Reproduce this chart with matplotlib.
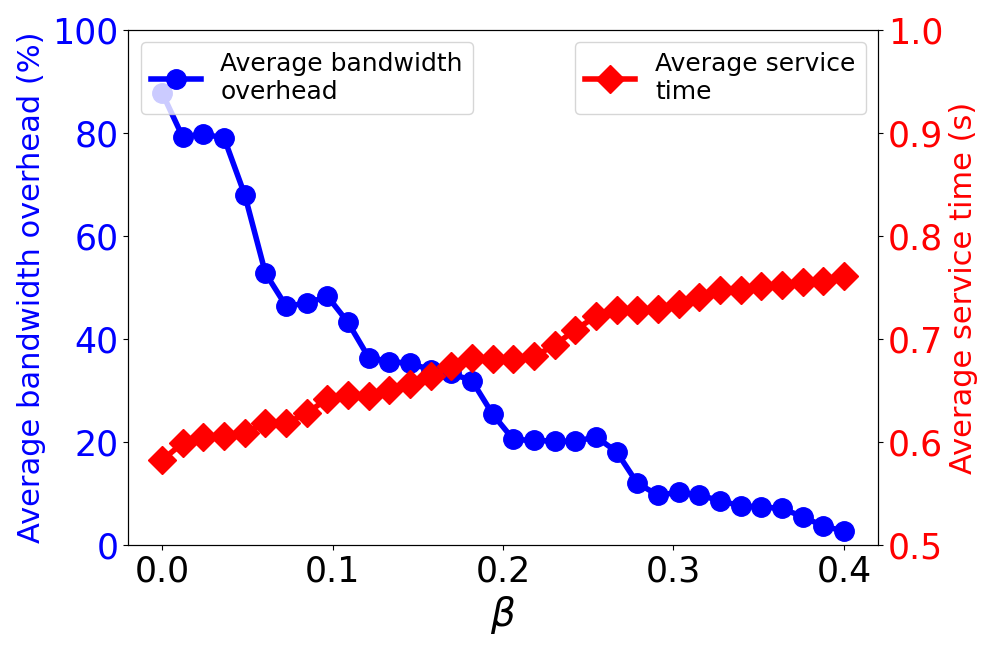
import numpy as np
import matplotlib
matplotlib.use('Agg')
from matplotlib import pyplot as plt

beta = np.linspace(0, 0.4, 34)

bandwidth = [87.8, 79.2, 79.8, 79.0, 68.0, 52.8, 46.4, 46.9, 48.3, 43.2,
             36.4, 35.6, 35.3, 34.0, 33.3, 31.9, 25.4, 20.5, 20.3, 20.2,
             20.1, 21.0, 18.1, 12.0, 9.7, 10.2, 9.7, 8.6, 7.6, 7.4,
             7.1, 5.5, 3.7, 2.7]

service_time = [0.5825, 0.599, 0.605, 0.606, 0.609, 0.618, 0.618, 0.628, 0.642, 0.646,
                0.645, 0.6505, 0.656, 0.664, 0.674, 0.682, 0.681, 0.681, 0.683, 0.694,
                0.709, 0.722, 0.728, 0.728, 0.729, 0.734, 0.741, 0.748, 0.748, 0.7515,
                0.752, 0.755, 0.756, 0.761]

fig, ax1 = plt.subplots(figsize=(10, 6.5), dpi=100)
fig.subplots_adjust(left=0.128, right=0.878, bottom=0.1615, top=0.954)

ax1.plot(beta, bandwidth, color='blue', marker='o', markersize=14, linewidth=4,
         label='Average bandwidth\noverhead')
ax1.set_ylim(0, 100)
ax1.set_ylabel('Average bandwidth overhead (%)', color='blue', fontsize=22)
ax1.tick_params(axis='y', labelcolor='blue', labelsize=25)
ax1.tick_params(axis='x', labelsize=25)
ax1.set_xticks([0.0, 0.1, 0.2, 0.3, 0.4])
ax1.set_xlabel(r'$\beta$', fontsize=28)
ax1.legend(loc='upper left', fontsize=18)

ax2 = ax1.twinx()
ax2.plot(beta, service_time, color='red', marker='D', markersize=14, linewidth=4,
         label='Average service\ntime')
ax2.set_ylim(0.5, 1.0)
ax2.set_ylabel('Average service time (s)', color='red', fontsize=22)
ax2.tick_params(axis='y', labelcolor='red', labelsize=25)
ax2.legend(loc='upper right', fontsize=18)

plt.savefig('out.png')
